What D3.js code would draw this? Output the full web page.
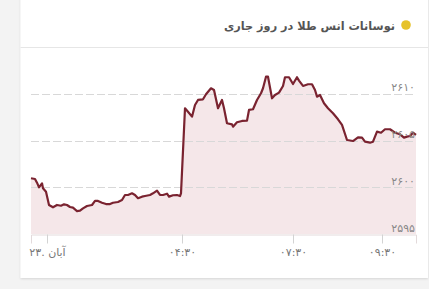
<!DOCTYPE html>
<html>
<head>
<meta charset="utf-8">
<script src="https://cdn.jsdelivr.net/npm/d3@7"></script>
<style>
  html, body { margin: 0; padding: 0; background: #f3f3f3; }
  svg { display: block; }
</style>
</head>
<body>
<svg id="chart" width="429" height="289"></svg>
<script>
// نوسانات انس طلا - نقاط نمودار (شماره نمونه روی محور ترتیبی، قیمت)
const title = "نوسانات انس طلا در روز جاری";

const slots = [0, 4, 6, 8, 11, 12, 15, 18, 22, 26, 30, 33, 36, 39, 42, 46, 49, 52, 56, 61,
  64, 67, 71, 75, 79, 82, 87, 91, 94, 97, 101, 104, 107, 111, 114, 119, 122, 126, 129, 132,
  136, 138, 142, 146, 149, 150, 154, 157, 161, 164, 167, 172, 175, 180, 183, 187, 191, 193,
  196, 201, 202, 206, 211, 216, 218, 222, 226, 230, 232, 235, 237, 241, 244, 248, 252, 254,
  258, 262, 266, 268, 272, 277, 281, 284, 286, 289, 293, 297, 302, 307, 311, 316, 322, 327,
  331, 334, 339, 342, 346, 350, 354, 359, 364, 369, 373, 376, 379, 382, 385];

const prices = [2600.97, 2600.89, 2600.50, 2600.00, 2600.43, 2599.90, 2599.53, 2598.11, 2597.86, 2598.11,
  2598.03, 2598.18, 2598.11, 2597.89, 2597.82, 2597.46, 2597.50, 2597.75, 2598.00, 2598.11,
  2598.54, 2598.54, 2598.35, 2598.21, 2598.21, 2598.35, 2598.43, 2598.64, 2599.18, 2599.18,
  2599.36, 2599.18, 2598.83, 2599.00, 2599.07, 2599.18, 2599.36, 2599.64, 2599.18, 2599.18,
  2599.32, 2599.00, 2599.15, 2599.18, 2599.07, 2599.36, 2608.47, 2608.10, 2607.57, 2608.82,
  2609.36, 2609.43, 2609.97, 2610.61, 2610.43, 2608.47, 2609.36, 2608.47, 2606.86, 2606.75,
  2606.50, 2606.97, 2607.11, 2607.14, 2608.29, 2608.36, 2609.36, 2610.08, 2610.61, 2611.85,
  2611.85, 2609.54, 2609.89, 2610.14, 2610.86, 2611.79, 2611.79, 2611.07, 2611.79, 2611.43,
  2610.86, 2611.04, 2611.04, 2610.43, 2609.71, 2609.89, 2609.00, 2608.47, 2607.93, 2607.29,
  2606.68, 2605.07, 2604.96, 2605.36, 2605.32, 2604.89, 2604.78, 2604.89, 2605.96, 2605.85,
  2606.22, 2606.22, 2605.85, 2605.68, 2605.32, 2605.43, 2605.50, 2605.85, 2605.61];

const yTicks = [2595, 2600, 2605, 2610];
const yTickLabels = ["۲۵۹۵", "۲۶۰۰", "۲۶۰۵", "۲۶۱۰"];
const xTickSlots = [16, 151, 262, 351];
const xTickLabels = ["۲۳. آبان", "۰۴:۳۰", "۰۷:۳۰", "۰۹:۳۰"];

const data = slots.map((s, i) => ({ s, v: prices[i] }));

const svg = d3.select("#chart");
const font = "'DejaVu Sans', sans-serif";

// --- کارت ---
const card = { x: 20.5, y: -4, w: 407.5, h: 282 };
const defs = svg.append("defs");
const f = defs.append("filter").attr("id", "shadow")
  .attr("x", "-5%").attr("y", "-5%").attr("width", "110%").attr("height", "110%");
f.append("feDropShadow").attr("dx", 0).attr("dy", 1).attr("stdDeviation", 1.2)
  .attr("flood-color", "#000").attr("flood-opacity", 0.12);

svg.append("rect")
  .attr("x", card.x).attr("y", card.y)
  .attr("width", card.w).attr("height", card.h)
  .attr("fill", "#fff")
  .attr("filter", "url(#shadow)");

// عنوان
svg.append("circle")
  .attr("cx", 406).attr("cy", 25).attr("r", 4.8)
  .attr("fill", "#e6c229");

svg.append("text")
  .attr("x", 395).attr("y", 29.5)
  .attr("text-anchor", "end")
  .attr("font-family", font)
  .attr("font-size", 11.3)
  .attr("font-weight", "bold")
  .attr("fill", "#555")
  .text(title);

svg.append("line")
  .attr("x1", card.x).attr("x2", card.x + card.w)
  .attr("y1", 47.5).attr("y2", 47.5)
  .attr("stroke", "#e6e6e6");

// --- محورها ---
const plot = { left: 31, right: 416, top: 61.3, bottom: 234 };

const x = d3.scaleLinear()
  .domain([0, 385])
  .range([plot.left, plot.right]);

const y = d3.scaleLinear()
  .domain([2595, 2613.5])
  .range([plot.bottom, plot.top]);

const area = d3.area()
  .x(d => x(d.s))
  .y0(plot.bottom)
  .y1(d => y(d.v));

const line = d3.line()
  .x(d => x(d.s))
  .y(d => y(d.v));

svg.append("path")
  .datum(data)
  .attr("d", area)
  .attr("fill", "#f5e7e9");

// خطوط راهنما
svg.append("g")
  .selectAll("line")
  .data(yTicks.filter(t => t !== 2595))
  .join("line")
  .attr("x1", plot.left).attr("x2", plot.right)
  .attr("y1", d => Math.round(y(d)) + 0.5)
  .attr("y2", d => Math.round(y(d)) + 0.5)
  .attr("stroke", "#d8d8d8")
  .attr("stroke-dasharray", "8,3");

// محور پایین
const xAxis = d3.axisBottom(x)
  .tickValues(xTickSlots)
  .tickSize(9)
  .tickPadding(5)
  .tickFormat((d, i) => xTickLabels[i]);

const gx = svg.append("g")
  .attr("transform", `translate(0,${plot.bottom + 0.5})`)
  .call(xAxis);
gx.select(".domain").attr("stroke", "#e3dadb");
gx.selectAll(".tick line").attr("stroke", "#d3d3d3");
gx.selectAll(".tick text")
  .attr("font-family", font)
  .attr("font-size", 11)
  .attr("fill", "#777");

// خط قیمت
svg.append("path")
  .datum(data)
  .attr("d", line)
  .attr("fill", "none")
  .attr("stroke", "#7a2330")
  .attr("stroke-width", 2.2)
  .attr("stroke-linejoin", "round");

// برچسب های محور عمودی
svg.append("g")
  .selectAll("text")
  .data(yTicks)
  .join("text")
  .attr("x", plot.right - 1)
  .attr("y", d => y(d) - 2.5)
  .attr("text-anchor", "end")
  .attr("font-family", font)
  .attr("font-size", 11)
  .attr("fill", "#888")
  .text((d, i) => yTickLabels[i]);
</script>
</body>
</html>
